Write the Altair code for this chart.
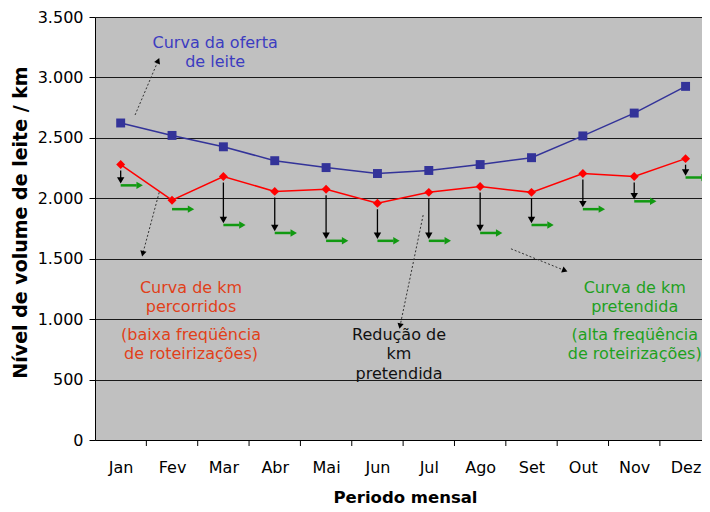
import altair as alt
import pandas as pd

months = ["Jan", "Fev", "Mar", "Abr", "Mai", "Jun", "Jul", "Ago", "Set", "Out", "Nov", "Dez"]
oferta = [2623, 2520, 2426, 2311, 2254, 2205, 2230, 2279, 2336, 2516, 2705, 2926]
percorridos = [2279, 1984, 2180, 2057, 2074, 1959, 2049, 2098, 2049, 2205, 2180, 2328]
pretendida = [2107, 1910, 1779, 1713, 1648, 1648, 1648, 1713, 1779, 1910, 1975, 2172]
y_ticks = [0, 500, 1000, 1500, 2000, 2500, 3000, 3500]

# annotation texts (x in month units, y in data units)
note_x = [2.34, 2.34, 1.87, 1.87, 1.87, 1.87, 5.92, 5.92, 5.92, 10.51, 10.51, 10.51, 10.51]
note_y = [3287, 3131, 1254, 1098, 869, 713, 869, 713, 549, 1254, 1098, 869, 713]
note_text = ["Curva da oferta", "de leite",
             "Curva de km", "percorridos", "(baixa freqüência", "de roteirizações)",
             "Redução de", "km", "pretendida",
             "Curva de km", "pretendida", "(alta freqüência", "de roteirizações)"]
note_color = ["#3c3cc0"] * 2 + ["#e0401a"] * 4 + ["#111111"] * 3 + ["#1ea01e"] * 4

# dotted pointer arrows
ptr_x = [0.78, 1.25, 6.39, 8.10]
ptr_y = [2689, 2049, 1861, 1582]
ptr_x2 = [1.23, 0.93, 5.94, 9.15]
ptr_y2 = [3139, 1541, 943, 1402]
ptr_angle = [23, 194, 192, 112]

W, H = 607, 423
XMAX = 11.82

df = pd.DataFrame({
    "mes": months,
    "pos": [i + 0.5 for i in range(len(months))],
    "oferta": oferta,
    "km": percorridos,
    "pret": pretendida,
})
bounds = pd.DataFrame({"b": list(range(1, len(months)))})
notes = pd.DataFrame({"x": note_x, "y": note_y, "t": note_text, "c": note_color})
ptrs = pd.DataFrame({"x": ptr_x, "y": ptr_y, "x2": ptr_x2, "y2": ptr_y2, "a": ptr_angle})

month_expr = "[" + ",".join("'%s'" % m for m in months) + "][floor(datum.value)]"

xscale = alt.Scale(domain=[0, XMAX], nice=False, zero=False)
yscale = alt.Scale(domain=[0, 3500], nice=False)

x_axis = alt.Axis(values=[i + 0.5 for i in range(len(months))], labelExpr=month_expr,
                  ticks=False, tickSize=0, grid=False, labelPadding=19,
                  title="Periodo mensal", titleFontSize=16.5, titleFontWeight="bold",
                  titleX=310, titleY=57, titleBaseline="middle", titleAlign="center")
y_axis = alt.Axis(values=y_ticks, grid=True, tickSize=6, labelPadding=6,
                  labelExpr="replace(format(datum.value, ','), ',', '.')",
                  title="Nível de volume de leite / km", titleFontSize=19,
                  titleFontWeight="bold", titleX=-75, titleY=205,
                  titleBaseline="middle", titleAlign="center", titleAngle=270)

base = alt.Chart(df)

line_o = base.mark_line(color="#333399", strokeWidth=1.5).encode(
    x=alt.X("pos:Q", scale=xscale, axis=x_axis),
    y=alt.Y("oferta:Q", scale=yscale, axis=y_axis),
)
pts_o = base.mark_point(shape="square", filled=True, size=80, color="#333399", opacity=1).encode(
    x="pos:Q", y="oferta:Q")
line_k = base.mark_line(color="#ff0000", strokeWidth=1.5).encode(x="pos:Q", y="km:Q")
pts_k = base.mark_point(shape="diamond", filled=True, size=80, color="#ff0000", opacity=1).encode(
    x="pos:Q", y="km:Q")

drop = base.transform_filter("datum.km - datum.pret > 100")
drop_rule = drop.mark_rule(color="black", strokeWidth=1.3, yOffset=6, y2Offset=-6).encode(
    x="pos:Q", y="km:Q", y2="pret:Q")
drop_head = drop.mark_point(shape="triangle-down", filled=True, size=55, color="black",
                            opacity=1, yOffset=-5).encode(x="pos:Q", y="pret:Q")

g_rule = base.mark_rule(color="#119911", strokeWidth=2.5, x2Offset=16).encode(
    x="pos:Q", x2="pos:Q", y="pret:Q")
g_head = base.mark_point(shape="triangle-right", filled=True, size=55, color="#119911",
                         opacity=1, xOffset=19).encode(x="pos:Q", y="pret:Q")

ticks = alt.Chart(bounds).mark_rule(color="black", strokeWidth=1).encode(
    x="b:Q", y=alt.value(H), y2=alt.value(H + 6))

ptr_rule = alt.Chart(ptrs).mark_rule(color="#333333", strokeWidth=1, strokeDash=[2, 2]).encode(
    x="x:Q", y="y:Q", x2="x2:Q", y2="y2:Q")
ptr_head = alt.Chart(ptrs).mark_point(shape="triangle-up", filled=True, size=40, color="black",
                                      opacity=1).encode(
    x="x2:Q", y="y2:Q", angle=alt.Angle("a:Q", scale=None))

texts = alt.Chart(notes).mark_text(font="DejaVu Sans", fontSize=16, align="center",
                                   baseline="middle").encode(
    x="x:Q", y="y:Q", text="t:N", color=alt.Color("c:N", scale=None))

chart = alt.layer(
    line_o, line_k, ticks, drop_rule, drop_head, g_rule, g_head, pts_o, pts_k,
    ptr_rule, ptr_head, texts
).properties(
    width=W, height=H,
    autosize=alt.AutoSizeParams(type="none"),
    padding={"left": 87, "top": 9, "right": 0, "bottom": 70},
    background="white",
).configure_view(
    fill="#c0c0c0", stroke="transparent"
).configure_axis(
    labelFont="DejaVu Sans", labelFontSize=16, labelColor="black",
    titleFont="DejaVu Sans", titleColor="black",
    domainColor="black", tickColor="black", gridColor="#1a1a1a", gridWidth=1,
    domainWidth=1,
)

chart.save("out.html", embed_options={"renderer": "svg", "actions": False})
